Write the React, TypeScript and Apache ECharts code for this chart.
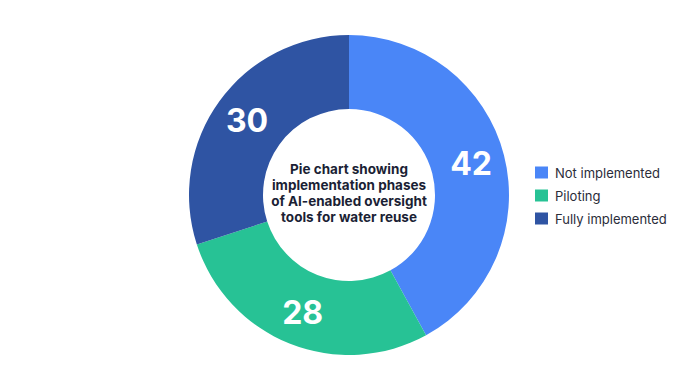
import React, { useEffect, useRef } from "react";
import * as echarts from "echarts";

const categories = ["Not implemented", "Piloting", "Fully implemented"];
const values = [42, 28, 30];
const colors = ["#4a86f7", "#27c295", "#2f54a3"];
const centerTitle = "Pie chart showing\nimplementation phases\nof AI-enabled oversight\ntools for water reuse";

export default function App() {
  const ref = useRef<HTMLDivElement>(null);
  useEffect(() => {
    if (!ref.current) return;
    const chart = echarts.init(ref.current, null, { renderer: "svg" });
    chart.setOption({
      animation: false,
      backgroundColor: "#ffffff",
      color: colors,
      title: {
        text: centerTitle,
        left: 341,
        top: 185,
        padding: 0,
        textAlign: "center",
        textVerticalAlign: "middle",
        textStyle: {
          fontFamily: "Inter",
          fontWeight: "bold",
          fontSize: 13.5,
          lineHeight: 15.8,
          color: "#1b1f35",
        },
      },
      legend: {
        orient: "vertical",
        left: 527,
        top: 158,
        padding: 0,
        itemWidth: 13,
        itemHeight: 12,
        itemGap: 10,
        icon: "rect",
        textStyle: {
          fontFamily: "Inter",
          fontSize: 13,
          color: "#2b2d3a",
          padding: [0, 0, 0, 2],
        },
        data: categories,
      },
      series: [
        {
          type: "pie",
          center: [341, 187],
          radius: [86, 160],
          startAngle: 90,
          clockwise: true,
          label: {
            show: true,
            position: "inside",
            formatter: "{c}",
            fontFamily: "Inter",
            fontWeight: "bold",
            fontSize: 32,
            color: "#ffffff",
          },
          labelLine: { show: false },
          emphasis: { disabled: true },
          itemStyle: { borderWidth: 0 },
          data: categories.map((name, i) => ({ name, value: values[i] })),
        },
      ],
    });
    return () => chart.dispose();
  }, []);
  return <div ref={ref} style={{ width: 684, height: 375 }} />;
}
